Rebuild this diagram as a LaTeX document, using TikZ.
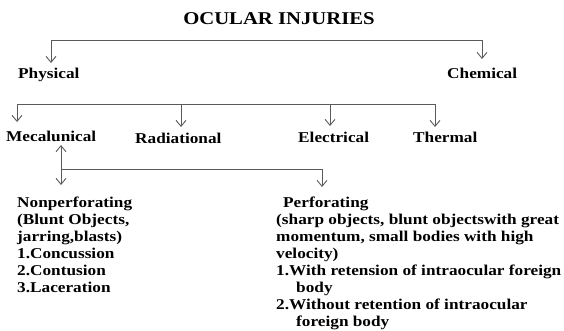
\documentclass[tikz,border=0pt]{standalone}
\usepackage{fontspec}
\setmainfont{Liberation Serif}[FakeStretch=1.15]
\usetikzlibrary{arrows.meta}
\definecolor{linec}{HTML}{5A5A5A}
\begin{document}
\begin{tikzpicture}[x=1pt,y=-1pt,
  conn/.style={draw=linec,line width=0.9pt},
  arr/.style={conn,-{Straight Barb[length=6pt,width=10pt,line width=0.9pt]}},
  lbl/.style={inner sep=0pt,font=\fontsize{15}{17}\selectfont\bfseries,anchor=base west},
  blk/.style={inner sep=0pt,font=\fontsize{15}{17}\selectfont\bfseries,align=left,anchor=north west},
  ttl/.style={inner sep=0pt,font=\fontsize{18}{20}\selectfont\bfseries}]
\useasboundingbox (0,0) rectangle (564,330);
\node[ttl] (title) at (279,19) {OCULAR INJURIES};
\node[lbl] (phys) at (18,78) {Physical};
\node[lbl] (chem) at (447,78) {Chemical};
\node[lbl] (mech) at (6,141) {Mecalunical};
\node[lbl] (rad) at (135,143) {Radiational};
\node[lbl] (elec) at (298,142) {Electrical};
\node[lbl] (therm) at (413,142) {Thermal};
\node[blk] (nonp) at (17,196.7) {Nonperforating\\(Blunt Objects,\\jarring,blasts)\\1.Concussion\\2.Contusion\\3.Laceration};
\node[blk] (perf) at (276,196.7) {\hspace*{7pt}Perforating\\(sharp objects, blunt objectswith great\\momentum, small bodies with high\\velocity)\\1.With retension of intraocular foreign\\\hspace*{20pt}body\\2.Without retention of intraocular\\\hspace*{20pt}foreign body};
% top bracket
\coordinate (t1) at (51,40);
\coordinate (t2) at (482,40);
\coordinate (pt) at (51,63);
\coordinate (ct) at (482,59);
\draw[conn] (t1) -- (t2);
\draw[arr] (t1) -- (pt);
\draw[arr] (t2) -- (ct);
% physical sub-bracket
\coordinate (s1) at (17,104);
\coordinate (s2) at (181,104);
\coordinate (s3) at (330,104);
\coordinate (s4) at (435,104);
\draw[conn] (s1) -- (s4);
\draw[arr] (s1) -- (17,122);
\draw[arr] (s2) -- (181,127);
\draw[arr] (s3) -- (330,126);
\draw[arr] (s4) -- (435,127);
% mechanical
\coordinate (m0) at (61,169);
\coordinate (m1) at (322,169);
\draw[arr] (m0) -- (61,145);
\draw[arr] (m0) -- (61,185);
\draw[conn] (m0) -- (m1);
\draw[arr] (m1) -- (322,187);
\end{tikzpicture}
\end{document}
